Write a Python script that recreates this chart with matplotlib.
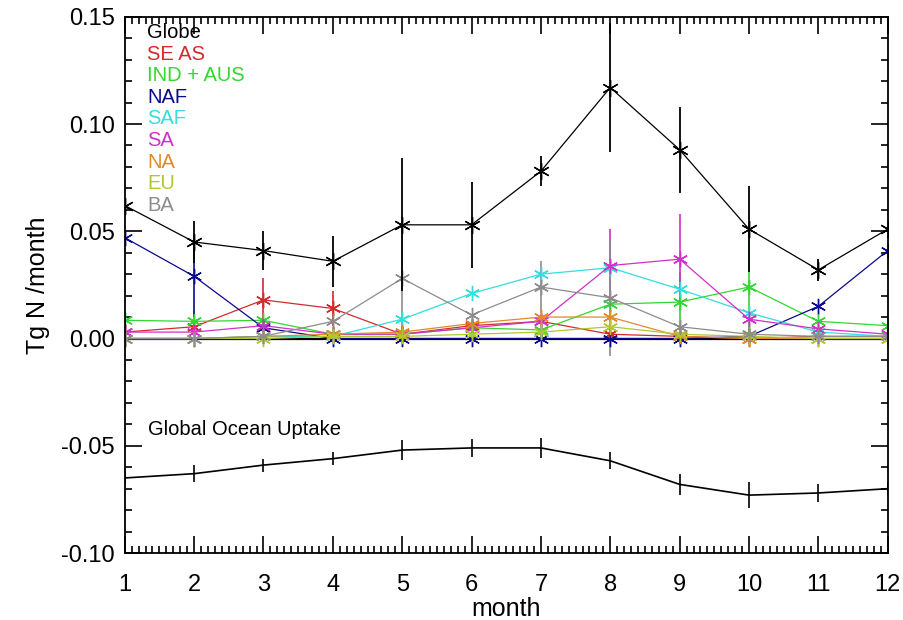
import matplotlib
matplotlib.use("Agg")
import matplotlib.pyplot as plt
import numpy as np
from matplotlib.ticker import MultipleLocator, FormatStrFormatter

months = np.arange(1, 13)

globe = [0.062, 0.045, 0.041, 0.036, 0.053, 0.053, 0.078, 0.117, 0.088, 0.051, 0.032, 0.051]
globe_err = [0.0, 0.010, 0.009, 0.012, 0.031, 0.020, 0.007, 0.030, 0.020, 0.020, 0.005, 0.0]

seas = [0.003, 0.0055, 0.018, 0.014, 0.002, 0.006, 0.008, 0.002, 0.001, 0.000, 0.001, 0.001]
seas_err = [0, 0, 0.010, 0.008, 0, 0, 0, 0, 0, 0, 0, 0]
ind = [0.0085, 0.008, 0.0085, 0.002, 0.002, 0.005, 0.004, 0.016, 0.017, 0.024, 0.008, 0.006]
ind_err = [0, 0.005, 0, 0, 0, 0, 0, 0, 0.014, 0.025, 0, 0]
naf = [0.047, 0.029, 0.005, 0.0, 0.0, 0.0, 0.0, 0.0, 0.0, 0.001, 0.015, 0.041]
naf_err = [0, 0.019, 0, 0, 0, 0, 0, 0, 0, 0, 0, 0]
saf = [0.000, 0.000, 0.001, 0.001, 0.009, 0.021, 0.030, 0.033, 0.023, 0.012, 0.003, 0.001]
saf_err = [0] * 12
sa = [0.003, 0.003, 0.006, 0.002, 0.002, 0.005, 0.008, 0.034, 0.037, 0.009, 0.0045, 0.002]
sa_err = [0, 0, 0, 0, 0, 0, 0, 0.017, 0.021, 0, 0, 0]
na = [0.000, 0.000, 0.001, 0.002, 0.003, 0.007, 0.010, 0.010, 0.001, 0.000, 0.000, 0.000]
na_err = [0] * 12
eu = [0.0, 0.0, 0.0, 0.001, 0.001, 0.002, 0.003, 0.0055, 0.002, 0.001, 0.0, 0.0]
eu_err = [0] * 12
ba = [0.000, 0.000, 0.001, 0.008, 0.028, 0.011, 0.024, 0.019, 0.0055, 0.002, 0.001, 0.001]
ba_err = [0, 0, 0, 0, 0.026, 0, 0.012, 0.027, 0, 0, 0, 0]

ocean = [-0.065, -0.063, -0.059, -0.056, -0.052, -0.051, -0.051, -0.057, -0.068, -0.073, -0.072, -0.070]
ocean_err = [0.003, 0.004, 0.003, 0.003, 0.0045, 0.004, 0.0045, 0.004, 0.005, 0.006, 0.004, 0.003]

labels = ['Globe', 'SE AS', 'IND + AUS', 'NAF', 'SAF', 'SA', 'NA', 'EU', 'BA']
colors = ['black', '#d42a2a', '#33d633', '#0a0a8c', '#33dede', '#d030c8', '#e08a28', '#b0c830', '#8c8c8c']
series = [globe, seas, ind, naf, saf, sa, na, eu, ba]
errs = [globe_err, seas_err, ind_err, naf_err, saf_err, sa_err, na_err, eu_err, ba_err]

plt.rcParams['font.family'] = ['Liberation Sans', 'DejaVu Sans']

fig = plt.figure(figsize=(9.04, 6.2), dpi=100)
ax = fig.add_axes([0.138, 0.108, 0.844, 0.865])

# zero line under the regional series
ax.axhline(0, color='black', lw=1.6, zorder=1)

for i in range(1, len(series)):
    ax.errorbar(months, series[i], yerr=errs[i], color=colors[i], lw=0.9, elinewidth=1.2,
                capsize=0, marker=(6, 2, 0), markersize=11, markeredgewidth=1.0, zorder=2)
ax.errorbar(months, globe, yerr=globe_err, color='black', lw=0.9, elinewidth=1.3,
            capsize=0, marker=(6, 2, 0), markersize=12, markeredgewidth=1.0, zorder=3)

ax.errorbar(months, ocean, yerr=ocean_err, color='black', lw=1.2, elinewidth=1.2, capsize=0, zorder=3)

for i, lab in enumerate(labels):
    ax.text(0.029, 0.988 - i * 0.0402, lab, transform=ax.transAxes, color=colors[i],
            fontsize=14.5, va='top', ha='left')
ax.text(1.33, -0.0425, 'Global Ocean Uptake', color='black', fontsize=14.5, va='center', ha='left')

ax.set_xlim(1, 12)
ax.set_ylim(-0.10, 0.15)
ax.xaxis.set_major_locator(MultipleLocator(1))
ax.xaxis.set_minor_locator(MultipleLocator(0.1))
ax.yaxis.set_major_locator(MultipleLocator(0.05))
ax.yaxis.set_minor_locator(MultipleLocator(0.01))
ax.yaxis.set_major_formatter(FormatStrFormatter('%.2f'))
ax.tick_params(which='both', direction='in', top=True, right=True, labelsize=17, width=1.2)
ax.tick_params(which='major', length=12)
ax.tick_params(axis='x', which='major', pad=15)
ax.tick_params(axis='y', which='major', pad=7)
ax.tick_params(which='minor', length=5)
for s in ax.spines.values():
    s.set_linewidth(1.3)

ax.set_xlabel('month', fontsize=18, labelpad=1)
ax.set_ylabel('Tg N /month', fontsize=18, labelpad=8)

fig.savefig('out.png', dpi=100)
